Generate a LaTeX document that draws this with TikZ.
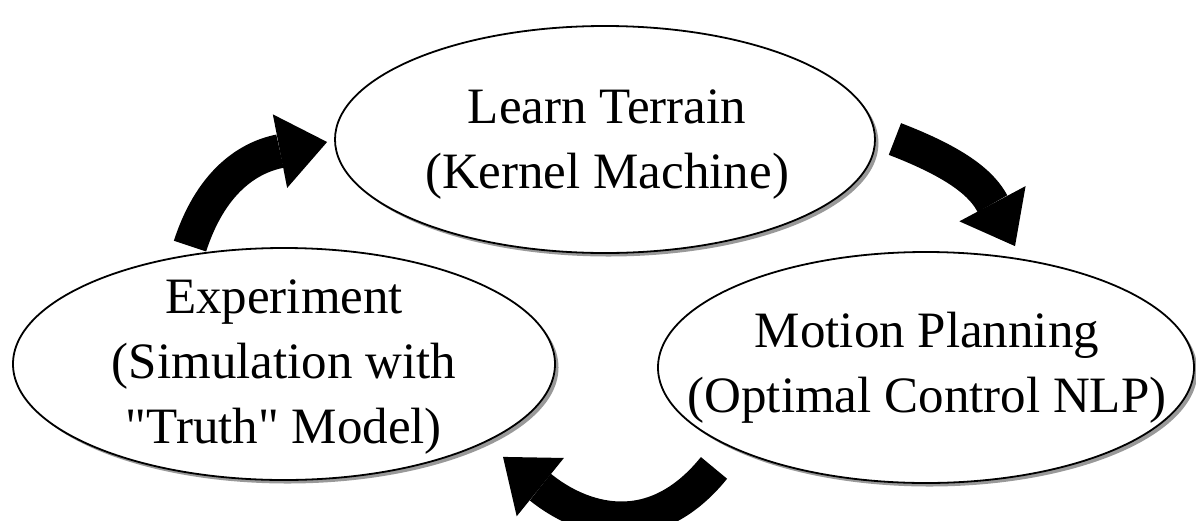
\documentclass[tikz,border=0pt]{standalone}
\usepackage{fontspec}
\setmainfont{Liberation Serif}[Ligatures=TeXOff]
\usetikzlibrary{shapes.geometric,shadows,arrows.meta}
\begin{document}
\begin{tikzpicture}[x=1pt,y=-1pt,
  stage/.style={ellipse, draw=black, line width=1.8pt, fill=white, inner sep=0pt,
    drop shadow={shadow xshift=3.5pt, shadow yshift=-3.5pt, fill=black!40, opacity=1}},
  stagetext/.style={align=center, font=\fontsize{51}{65}\selectfont, inner sep=0pt},
  cyc/.style={line width=34pt, -{Triangle[length=48pt, width=75pt, line width=0pt]}}]
\useasboundingbox (0,0) rectangle (1196,520);
\node[stage, minimum width=540pt, minimum height=227pt] (learn) at (605,139.5) {};
\node[stage, minimum width=542pt, minimum height=232pt] (exp) at (284,364) {};
\node[stage, minimum width=536pt, minimum height=231pt] (motion) at (926,367.5) {};
\node[stagetext] (learnT) at (607,144.6) {Learn Terrain\\(Kernel Machine)};
\node[stagetext] (expT) at (284,367) {Experiment\\(Simulation with\\"Truth" Model)};
\node[stagetext] (motionT) at (927,368) {Motion Planning\\(Optimal Control NLP)};
\draw[cyc] ([shift={(-94,-1)}]exp.north) to[out=72,in=191,looseness=1.1] ([shift={(-7,2.5)}]learn.west);
\draw[cyc] ([shift={(19,-0.5)}]learn.east) to[out=-21,in=118,looseness=1.1] ([shift={(89,-5)}]motion.north);
\draw[cyc] ([shift={(-212,-16)}]motion.south) to[out=231,in=321,looseness=1.2] ([shift={(219,-24)}]exp.south);
\end{tikzpicture}
\end{document}
